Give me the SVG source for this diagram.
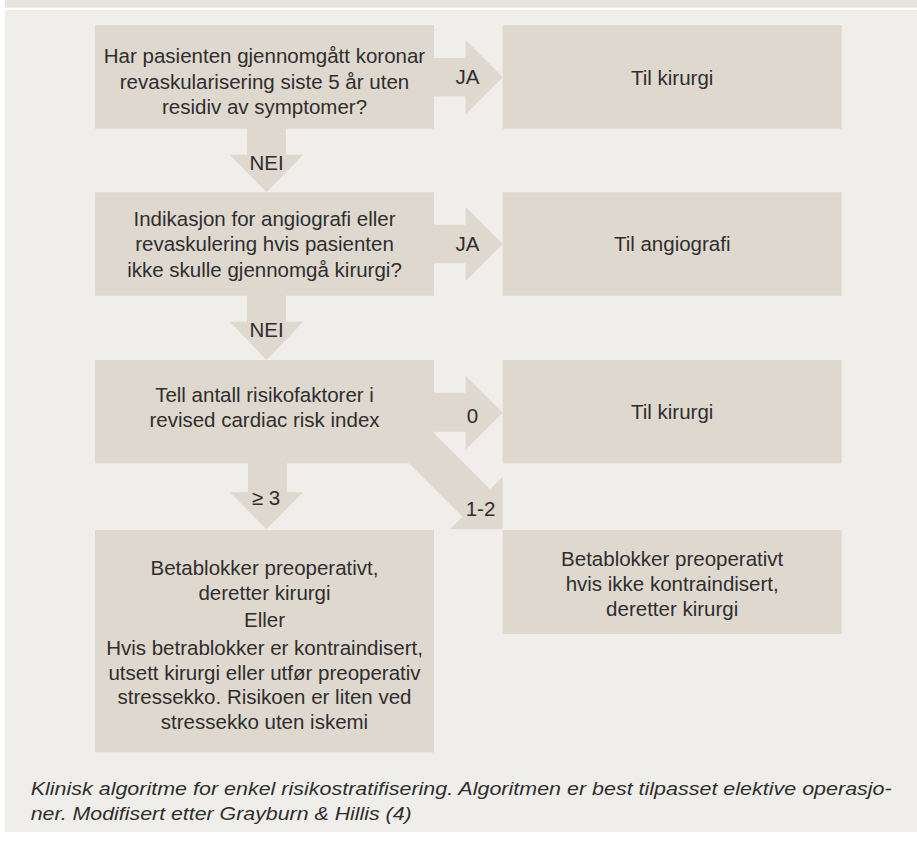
<svg xmlns="http://www.w3.org/2000/svg" width="917" height="841" viewBox="0 0 917 841">
<style>
.box{fill:#dfd8cf}
.arrow{fill:#dfd8cf}
text{font-family:"Liberation Sans",Arial,Helvetica,sans-serif;font-size:20.5px;fill:#2e2e2e}
.c{text-anchor:middle}
.cap{font-style:italic;font-size:19px}
</style>
<rect x="0" y="0" width="917" height="841" fill="#ffffff"/>
<rect x="5" y="0" width="912" height="7.7" fill="#e8e4de"/>
<rect x="5" y="10" width="912" height="822" fill="#f0eeea"/>
<g id="connectors">
<polygon class="arrow" points="420,58 465.7,58 465.7,40.3 502.7,77.3 465.7,114.3 465.7,96.6 420,96.6"/>
<polygon class="arrow" points="420,224.7 465.7,224.7 465.7,207 502.7,244 465.7,281 465.7,263.3 420,263.3"/>
<polygon class="arrow" points="420,392.7 465.7,392.7 465.7,375.7 502.7,412.7 465.7,449.7 465.7,431.7 420,431.7"/>
<polygon class="arrow" points="400,399 490.2,489.2 502.7,476.7 502.7,529.3 450,529.3 462.6,516.8 380,434.2"/>
<polygon class="arrow" points="247,120 286,120 286,154.8 303.2,154.8 266.5,192.3 229.8,154.8 247,154.8"/>
<polygon class="arrow" points="247,290 286,290 286,321.8 303.2,321.8 266.5,360 229.8,321.8 247,321.8"/>
<polygon class="arrow" points="248,455 287,455 287,492.3 303.2,492.3 266.5,529.3 229.8,492.3 248,492.3"/>
<text class="c" x="467.5" y="84">JA</text>
<text class="c" x="467.5" y="251">JA</text>
<text class="c" x="472.5" y="422.5">0</text>
<text class="c" x="480.5" y="515.5">1-2</text>
<text class="c" x="266.5" y="170.3">NEI</text>
<text class="c" x="266.5" y="337.3">NEI</text>
<text class="c" x="266" y="505">≥ 3</text>
</g>
<g id="q1">
<rect class="box" x="95" y="25" width="339" height="103.7"/>
<text class="c" x="264.5" y="63.3">Har pasienten gjennomgått koronar</text>
<text class="c" x="264.5" y="88.5">revaskularisering siste 5 år uten</text>
<text class="c" x="264.5" y="113.5">residiv av symptomer?</text>
</g>
<g id="r1">
<rect class="box" x="502.7" y="25" width="339" height="103.7"/>
<text class="c" x="672.2" y="84.5">Til kirurgi</text>
</g>
<g id="q2">
<rect class="box" x="95" y="192.3" width="339" height="103.4"/>
<text class="c" x="264.5" y="225.5">Indikasjon for angiografi eller</text>
<text class="c" x="264.5" y="251">revaskulering hvis pasienten</text>
<text class="c" x="264.5" y="276.5">ikke skulle gjennomgå kirurgi?</text>
</g>
<g id="r2">
<rect class="box" x="502.7" y="192.3" width="339" height="103.4"/>
<text class="c" x="672.2" y="251">Til angiografi</text>
</g>
<g id="q3">
<rect class="box" x="95" y="360" width="339" height="103.3"/>
<text class="c" x="264.5" y="401.5">Tell antall risikofaktorer i</text>
<text class="c" x="264.5" y="426.5">revised cardiac risk index</text>
</g>
<g id="r3">
<rect class="box" x="502.7" y="360" width="339" height="103.3"/>
<text class="c" x="672.2" y="419">Til kirurgi</text>
</g>
<g id="r4">
<rect class="box" x="502.7" y="530" width="339" height="104"/>
<text class="c" x="672.2" y="565.5">Betablokker preoperativt</text>
<text class="c" x="672.2" y="590.5">hvis ikke kontraindisert,</text>
<text class="c" x="672.2" y="615.5">deretter kirurgi</text>
</g>
<g id="q5">
<rect class="box" x="95" y="530" width="339" height="222.5"/>
<text class="c" x="264.5" y="575">Betablokker preoperativt,</text>
<text class="c" x="264.5" y="600">deretter kirurgi</text>
<text class="c" x="264.5" y="627.3">Eller</text>
<text class="c" x="264.5" y="655">Hvis betrablokker er kontraindisert,</text>
<text class="c" x="264.5" y="679.5">utsett kirurgi eller utfør preoperativ</text>
<text class="c" x="264.5" y="704.3">stressekko. Risikoen er liten ved</text>
<text class="c" x="264.5" y="728.5">stressekko uten iskemi</text>
</g>
<g id="caption">
<text class="cap" x="30.7" y="795" textLength="861" lengthAdjust="spacingAndGlyphs">Klinisk algoritme for enkel risikostratifisering. Algoritmen er best tilpasset elektive operasjo-</text>
<text class="cap" x="30.7" y="820" textLength="381" lengthAdjust="spacingAndGlyphs">ner. Modifisert etter Grayburn &amp; Hillis (4)</text>
</g>
</svg>
